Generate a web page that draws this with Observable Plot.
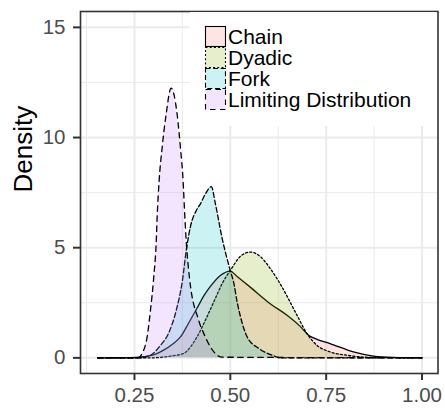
<!DOCTYPE html>
<html>
<head>
<meta charset="utf-8">
<script src="https://cdn.jsdelivr.net/npm/d3@7"></script>
<script src="https://cdn.jsdelivr.net/npm/@observablehq/plot@0.6"></script>
<style>
  body { margin: 0; background: #fff; }
  #chart { position: relative; width: 445px; height: 408px; }
  #chart svg.legend { position: absolute; left: 0; top: 0; pointer-events: none; }
</style>
</head>
<body>
<div id="chart"></div>
<script>
// Series names, in legend / drawing order
const groups = ["Chain", "Dyadic", "Fork", "Limiting Distribution"];

// Density estimates (x = value, y = density) for each series
const chainX = [0.154, 0.240, 0.273, 0.305, 0.326, 0.349, 0.370, 0.391, 0.413, 0.430, 0.448, 0.474, 0.500, 0.517, 0.552, 0.604, 0.648, 0.682, 0.704, 0.729, 0.760, 0.821, 0.873, 0.924, 1.000];
const chainY = [0, 0.005, 0.05, 0.17, 0.35, 0.62, 0.95, 1.57, 2.25, 2.79, 3.24, 3.74, 3.94, 3.70, 3.21, 2.46, 1.93, 1.43, 1.03, 0.82, 0.65, 0.27, 0.08, 0.02, 0];

const dyadicX = [0.154, 0.292, 0.344, 0.378, 0.413, 0.439, 0.461, 0.479, 0.500, 0.526, 0.552, 0.578, 0.604, 0.635, 0.674, 0.700, 0.726, 0.760, 0.804, 0.865, 1.000];
const dyadicY = [0, 0, 0.08, 0.20, 0.95, 1.86, 2.70, 3.38, 3.97, 4.60, 4.80, 4.60, 4.06, 3.21, 1.93, 1.10, 0.57, 0.27, 0.12, 0.02, 0];

const forkX = [0.154, 0.266, 0.292, 0.318, 0.339, 0.359, 0.375, 0.385, 0.396, 0.411, 0.422, 0.435, 0.4505, 0.461, 0.478, 0.500, 0.509, 0.517, 0.526, 0.544, 0.574, 0.609, 0.635, 1.000];
const forkY = [0, 0, 0.12, 0.57, 1.12, 2.16, 3.50, 4.87, 5.96, 6.68, 6.99, 7.44, 7.77, 7.00, 5.48, 3.95, 3.40, 2.61, 1.90, 0.95, 0.43, 0.12, 0, 0];

const limitingX = [0.154, 0.260, 0.270, 0.283, 0.2917, 0.3003, 0.3065, 0.3095, 0.3143, 0.3222, 0.3326, 0.3456, 0.3612, 0.3698, 0.3768, 0.381, 0.3854, 0.3932, 0.4174, 0.4349, 0.4479, 0.479, 1.000];
const limitingY = [0, 0, 0.20, 0.95, 2.16, 3.67, 5.18, 6.53, 8.04, 9.55, 11.06, 12.24, 11.06, 9.55, 8.04, 6.53, 5.19, 3.67, 1.71, 0.95, 0.50, 0.03, 0];

// Axis ticks and grid
const xTicks = [0.25, 0.50, 0.75, 1.00];
const xMinor = [0.125, 0.375, 0.625, 0.875];
const yTicks = [0, 5, 10, 15];
const yMinor = [2.5, 7.5, 12.5];

// Styling per series
const fills = ["#F8766D", "#7CAE00", "#00BFC4", "#C77CFF"];
const dashes = [null, "2,2.2", "5,2.6", "5.5,4.5"];

const seriesX = [chainX, dyadicX, forkX, limitingX];
const seriesY = [chainY, dyadicY, forkY, limitingY];
const rows = groups.map((g, i) => seriesX[i].map((x, j) => ({group: g, x, y: seriesY[i][j]})));

const font = "'Liberation Sans', Arial, Helvetica, sans-serif";

const plot = Plot.plot({
  width: 445,
  height: 408,
  marginLeft: 80,
  marginRight: 7.5,
  marginTop: 11,
  marginBottom: 35,
  style: {fontFamily: font, background: "#fff"},
  x: {domain: [0.1092, 1.0417]},
  y: {domain: [-0.71, 15.72]},
  marks: [
    Plot.ruleX(xMinor, {stroke: "#EBEBEB", strokeWidth: 1}),
    Plot.ruleY(yMinor, {stroke: "#EBEBEB", strokeWidth: 1}),
    Plot.ruleX(xTicks, {stroke: "#EBEBEB", strokeWidth: 2}),
    Plot.ruleY(yTicks, {stroke: "#EBEBEB", strokeWidth: 2}),
    ...rows.flatMap((data, i) => [
      Plot.areaY(data, {x: "x", y: "y", fill: fills[i], fillOpacity: 0.2, curve: "monotone-x"}),
      Plot.lineY(data, {x: "x", y: "y", stroke: "black", strokeWidth: 1.3, strokeDasharray: dashes[i], curve: "monotone-x"})
    ]),
    Plot.axisX(xTicks, {
      tickFormat: d3.format(".2f"), tickSize: 7, tickPadding: 7,
      stroke: "#333333", strokeWidth: 2, fill: "#4D4D4D", fontSize: 20.5, label: null
    }),
    Plot.axisY(yTicks, {
      tickSize: 7, tickPadding: 8,
      stroke: "#333333", strokeWidth: 2, fill: "#4D4D4D", fontSize: 20.5, label: null
    }),
    Plot.text(["Density"], {frameAnchor: "left", dx: -57, rotate: -90, fontSize: 26, fill: "black"}),
    Plot.frame({stroke: "#333333", strokeWidth: 1.6})
  ]
});

const chart = document.getElementById("chart");
chart.append(plot);

// Legend inside the panel, top right, drawn over the plot
const legend = d3.select(chart).append("svg")
  .attr("class", "legend")
  .attr("width", 445).attr("height", 408);
legend.append("rect")
  .attr("x", 190).attr("y", 12).attr("width", 246.5).attr("height", 114)
  .attr("fill", "#ffffff").attr("stroke", "none");
groups.forEach((g, i) => {
  const y0 = 26 + i * 21;
  legend.append("rect")
    .attr("x", 205.5).attr("y", y0 + 0.5).attr("width", 20).attr("height", 20)
    .attr("fill", fills[i]).attr("fill-opacity", 0.2)
    .attr("stroke", "black").attr("stroke-width", 1.1)
    .attr("stroke-dasharray", dashes[i]);
  legend.append("text")
    .attr("x", 228).attr("y", y0 + 18)
    .attr("text-anchor", "start")
    .attr("font-family", font).attr("font-size", 21).attr("fill", "black")
    .text(g);
});
</script>
</body>
</html>
